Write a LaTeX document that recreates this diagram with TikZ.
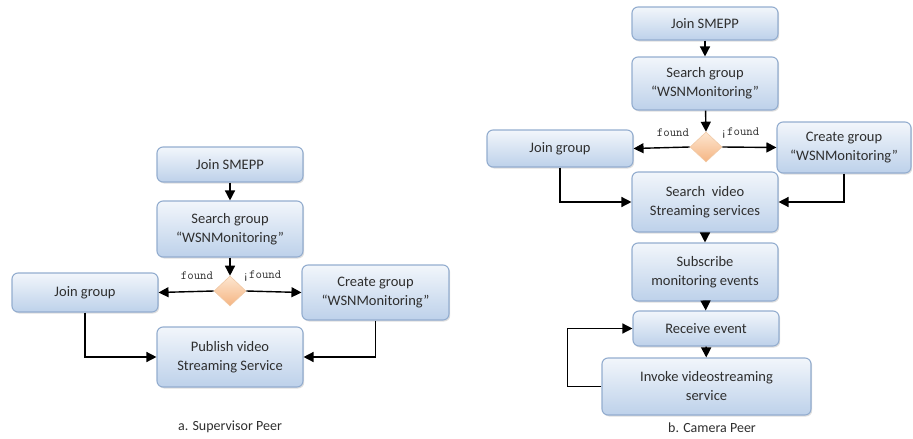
\documentclass[tikz,border=0pt]{standalone}
\usepackage{fontspec}
\setmainfont{Carlito}
\usetikzlibrary{shapes.geometric,arrows.meta,shadows}
\definecolor{boxtop}{HTML}{F2F6FB}
\definecolor{boxbot}{HTML}{BDD1EA}
\definecolor{boxline}{HTML}{93ADCF}
\definecolor{dtop}{HTML}{FDE6D0}
\definecolor{dbot}{HTML}{F5B583}
\definecolor{dline}{HTML}{F0C9A6}
\definecolor{txt}{HTML}{2E2E2E}
\tikzset{
  box/.style={draw=boxline, line width=1.1pt, rounded corners=6pt, top color=boxtop, bottom color=boxbot,
    drop shadow={opacity=0.25, shadow xshift=1.2pt, shadow yshift=-1.5pt},
    align=center, inner sep=0pt, text=txt, font=\fontsize{14.5}{19}\selectfont},
  dec/.style={diamond, draw=dline, line width=0.6pt, top color=dtop, bottom color=dbot, inner sep=0pt, minimum width=32pt, minimum height=30pt},
  lab/.style={font=\ttfamily\fontsize{12.5}{12.5}\selectfont, text=txt, inner sep=0pt},
  captext/.style={font=\fontsize{14}{16}\selectfont, text=txt},
  arr/.style={-{Triangle[length=10pt,width=10pt]}, line width=1.4pt, black}
}
\begin{document}
\begin{tikzpicture}[x=1pt,y=-1pt]
\useasboundingbox (0,0) rectangle (913,439);
% left diagram
\node[box, minimum width=146pt, minimum height=35pt] (js1) at (230,164.5) {Join SMEPP};
\node[box, minimum width=146pt, minimum height=56pt] (sg1) at (230,229) {Search group\\``WSNMonitoring''};
\node[dec] (d1) at (230,291) {};
\node[box, minimum width=146pt, minimum height=39pt] (jg1) at (85,292.5) {Join group};
\node[box, minimum width=147pt, minimum height=55pt] (cg1) at (375.5,292.5) {Create group\\``WSNMonitoring''};
\node[box, minimum width=146pt, minimum height=60pt] (pub1) at (230,357) {Publish video\\Streaming Service};
\node[captext] (cap1) at (230,427) {a. Supervisor Peer};
\node[lab] (f1) at (197,276) {found};
\node[lab] (nf1) at (262,276) {¡found};
\draw[arr] (js1) -- (sg1);
\draw[arr] (sg1) -- (d1.north);
\draw[arr] (d1.west) -- (jg1.east);
\draw[arr] (d1.east) -- (cg1.west);
\draw[arr] (jg1.south) |- (pub1.west);
\draw[arr] (cg1.south) |- (pub1.east);
% right diagram
\node[box, minimum width=146pt, minimum height=33pt] (js2) at (705,23.5) {Join SMEPP};
\node[box, minimum width=146pt, minimum height=53pt] (sg2) at (705,83.5) {Search group\\``WSNMonitoring''};
\node[dec] (d2) at (706,147) {};
\node[box, minimum width=146pt, minimum height=37pt] (jg2) at (560,148.5) {Join group};
\node[box, minimum width=134pt, minimum height=51pt] (cg2) at (844,147.5) {Create group\\``WSNMonitoring''};
\node[box, minimum width=146pt, minimum height=60pt] (sv2) at (705,202) {Search~ video\\Streaming services};
\node[box, minimum width=146pt, minimum height=58pt] (sub2) at (705,272) {Subscribe\\monitoring events};
\node[box, minimum width=146pt, minimum height=35pt] (re2) at (706,328.5) {Receive event};
\node[box, minimum width=209pt, minimum height=57pt] (inv2) at (706.5,386.5) {Invoke videostreaming\\service};
\node[captext] (cap2) at (712,428) {b. Camera Peer};
\node[lab] (f2) at (673,133) {found};
\node[lab] (nf2) at (740,133) {¡found};
\draw[arr] (js2) -- (sg2);
\draw[arr] (sg2) -- (d2.north);
\draw[arr] (d2.west) -- (jg2.east);
\draw[arr] (d2.east) -- (cg2.west);
\draw[arr] (jg2.south) |- (sv2.west);
\draw[arr] (cg2.south) |- (sv2.east);
\draw[arr] (sv2) -- (sub2);
\draw[arr] (sub2) -- (re2);
\draw[arr] (re2) -- (inv2);
\draw[arr] (inv2.west) -- ++(-34,0) |- (re2.west);
\end{tikzpicture}
\end{document}
